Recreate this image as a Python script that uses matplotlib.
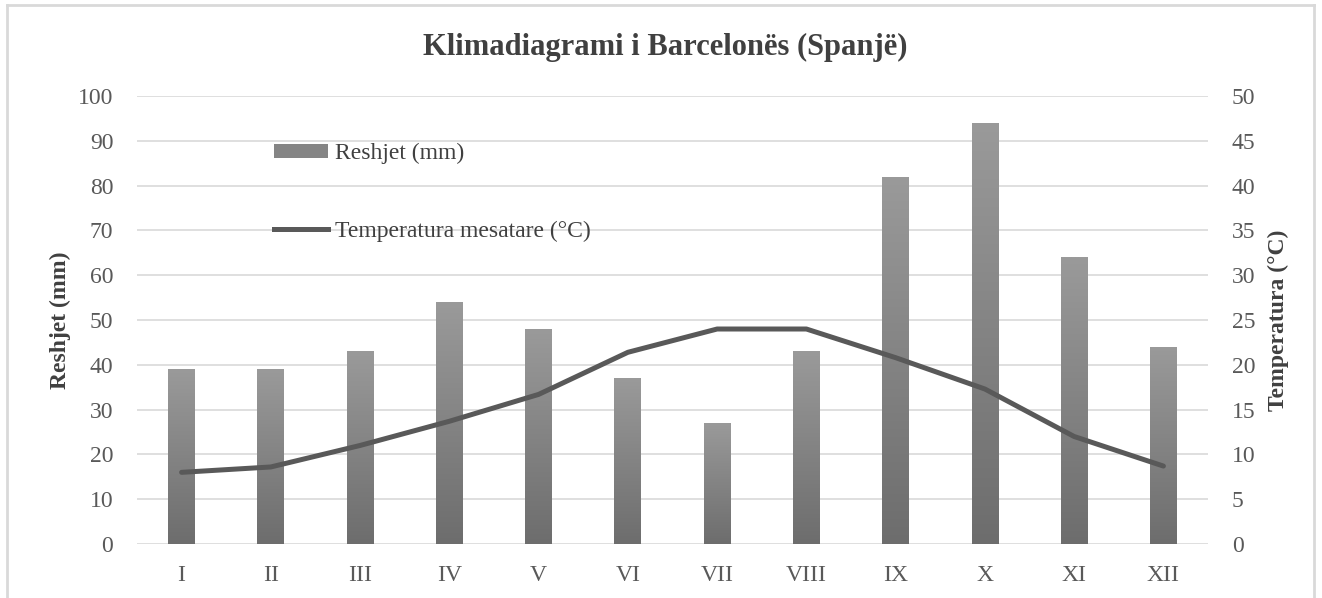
import numpy as np
import matplotlib.pyplot as plt
from matplotlib.colors import LinearSegmentedColormap
from matplotlib.lines import Line2D
from matplotlib.patches import Patch

# Monthly climate data for Barcelona
months = ["I", "II", "III", "IV", "V", "VI", "VII", "VIII", "IX", "X", "XI", "XII"]
precip_mm = [39, 39, 43, 54, 48, 37, 27, 43, 82, 94, 64, 44]
temp_c = [8.0, 8.6, 11.0, 13.7, 16.7, 21.4, 24.0, 24.0, 20.8, 17.3, 12.0, 8.7]

plt.rcParams["font.family"] = ["Liberation Serif", "DejaVu Serif"]

fig = plt.figure(figsize=(13.22, 5.98), dpi=100)
ax = fig.add_axes([0.1036, 0.0903, 0.8102, 0.749])
ax2 = ax.twinx()

x = np.arange(len(months))
bars = ax.bar(x, precip_mm, width=0.30, color="#858585", zorder=2)

# vertical gradient inside each bar, lighter at the top
bar_cmap = LinearSegmentedColormap.from_list("bar", ["#6d6d6d", "#9a9a9a"])
grad = np.linspace(0, 1, 256).reshape(-1, 1)
for b in bars:
    x0, y0 = b.get_x(), b.get_y()
    w, h = b.get_width(), b.get_height()
    im = ax.imshow(grad, cmap=bar_cmap, origin="lower",
                   extent=[x0, x0 + w, y0, y0 + h], aspect="auto", zorder=3)
    im.set_clip_path(b)

ax2.plot(x, temp_c, color="#595959", lw=3.6, solid_joinstyle="round",
         solid_capstyle="round", zorder=4)

ax.set_xlim(-0.5, len(months) - 0.5)
ax.set_ylim(0, 100)
ax2.set_ylim(0, 50)
ax.set_yticks(range(0, 101, 10))
ax2.set_yticks(range(0, 51, 5))
ax.set_xticks(x)
ax.set_xticklabels(months)

ax.grid(axis="y", color="#d9d9d9", lw=1.2, zorder=0)
ax.set_axisbelow(True)
for a in (ax, ax2):
    for s in a.spines.values():
        s.set_visible(False)
    a.tick_params(length=0, labelsize=17, labelcolor="#595959")
ax.tick_params(axis="y", pad=17)
ax2.tick_params(axis="y", pad=17)
ax.tick_params(axis="x", pad=15)

ax.set_ylabel("Reshjet (mm)", fontsize=17, fontweight="bold", color="#404040", labelpad=5)
ax2.set_ylabel("Temperatura (°C)", fontsize=17, fontweight="bold", color="#404040", labelpad=9)

fig.text(0.503, 0.921, "Klimadiagrami i Barcelonës (Spanjë)", ha="center", va="center",
         fontsize=22, fontweight="bold", color="#404040")

handles = [Patch(facecolor="#858585"), Line2D([0], [0], color="#595959", lw=3.6)]
ax2.legend(handles, ["Reshjet (mm)", "Temperatura mesatare (°C)"], loc="upper left",
           bbox_to_anchor=(274 / 1322, 1 - 143 / 598), bbox_transform=fig.transFigure,
           frameon=False, fontsize=17, handlelength=2.3, handleheight=0.5,
           handletextpad=0.3, labelspacing=2.4, borderpad=0, borderaxespad=0,
           labelcolor="#404040")

# light frame around the chart area
for xs, ys in [((0.005, 0.005), (0, 0.992)), ((0.005, 0.994), (0.992, 0.992)),
               ((0.994, 0.994), (0, 0.992))]:
    fig.add_artist(Line2D(xs, ys, color="#d9d9d9", lw=2, transform=fig.transFigure))

fig.savefig("out.png", dpi=100)
